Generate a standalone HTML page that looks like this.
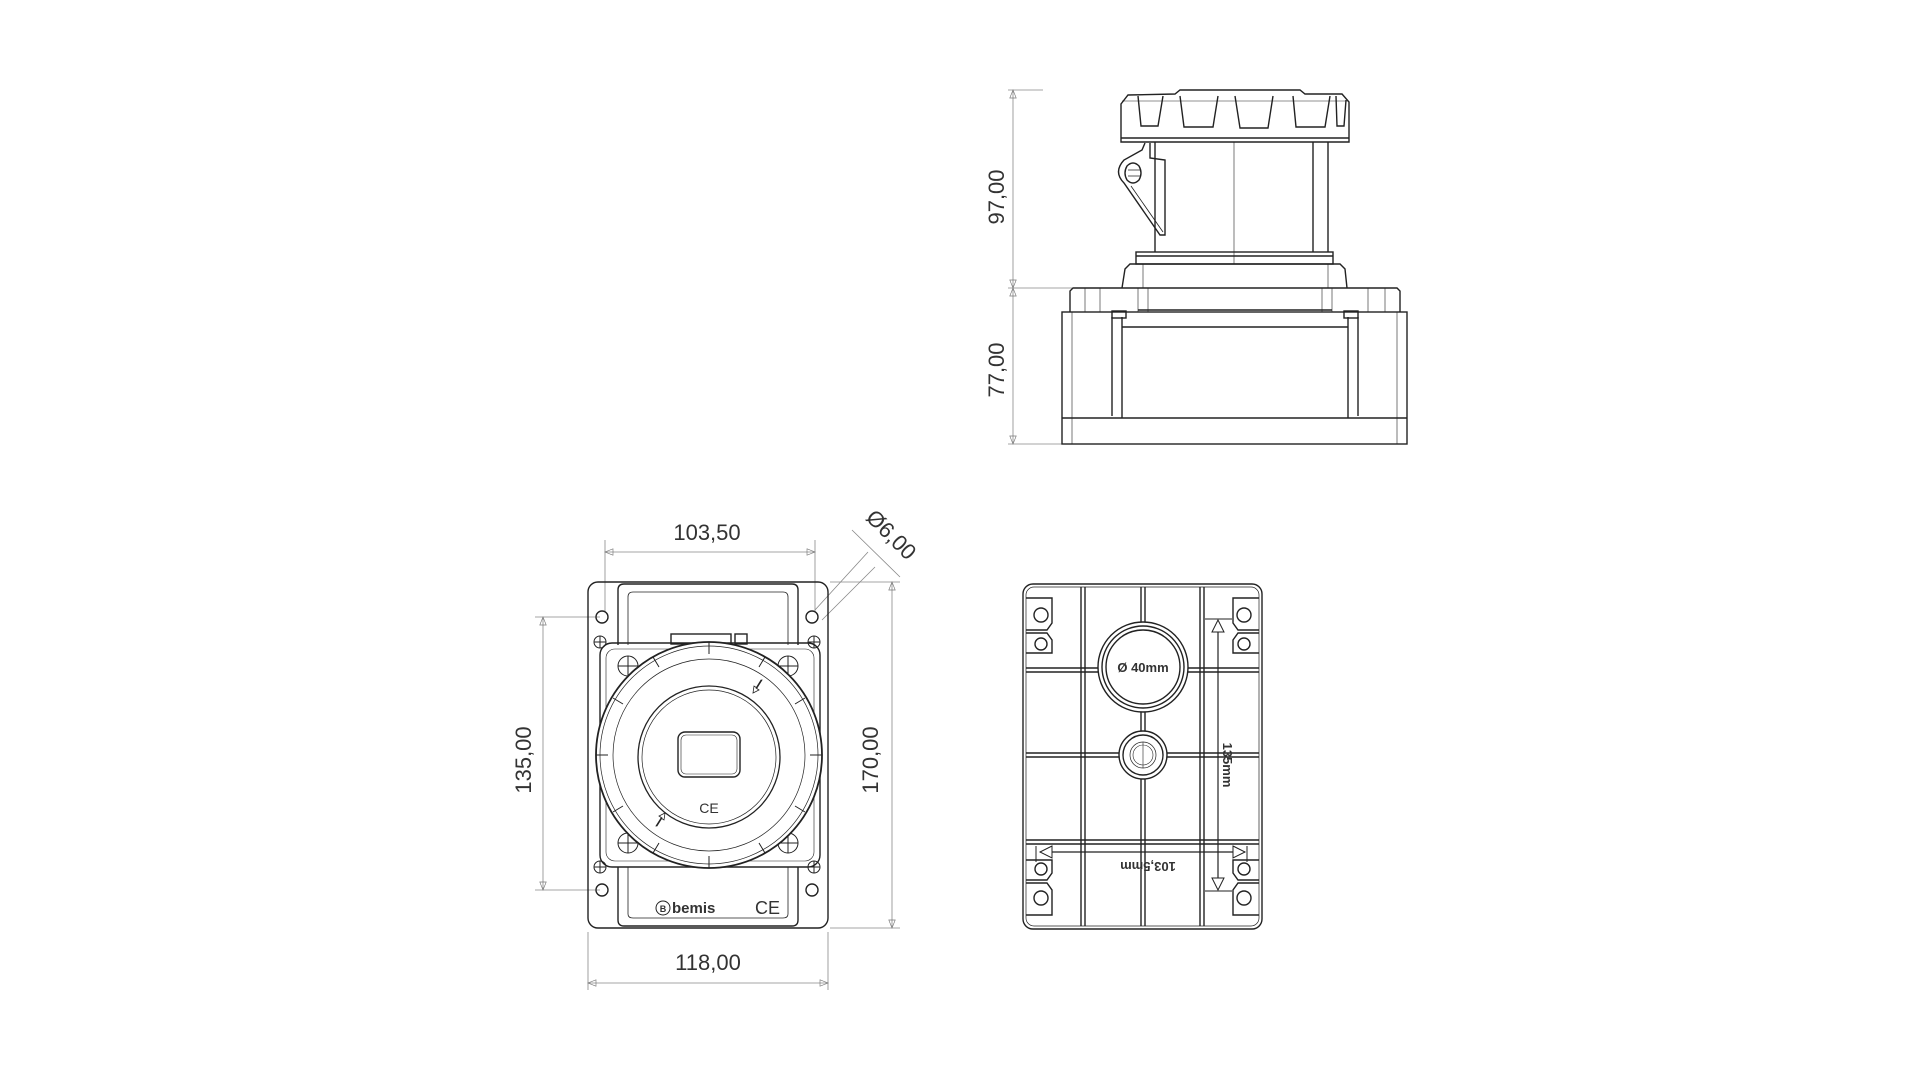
<!DOCTYPE html>
<html><head><meta charset="utf-8"><style>
html,body{margin:0;padding:0;background:#fff;width:1920px;height:1080px;overflow:hidden}
svg{display:block}
text{font-family:"Liberation Sans",sans-serif;fill:#333}
</style></head><body>
<svg width="1920" height="1080" viewBox="0 0 1920 1080" xmlns="http://www.w3.org/2000/svg">
<defs>
<marker id="ah" viewBox="0 0 10 10" refX="10" refY="5" markerWidth="14" markerHeight="8" orient="auto-start-reverse" markerUnits="userSpaceOnUse">
<path d="M0,1 L10,5 L0,9 Z" fill="none" stroke="#777" stroke-width="0.8"/></marker>
</defs>
<g fill="none" stroke="#222" stroke-width="1.4">
<g stroke="#888" stroke-width="0.8">
<line x1="1008" y1="90" x2="1043" y2="90"/>
<line x1="1008" y1="288" x2="1072" y2="288"/>
<line x1="1008" y1="444" x2="1062" y2="444"/>
<line x1="1013" y1="90" x2="1013" y2="288" marker-start="url(#ah)" marker-end="url(#ah)"/>
<line x1="1013" y1="288" x2="1013" y2="444" marker-start="url(#ah)" marker-end="url(#ah)"/>
</g>
<path d="M1121,142 L1121,104 L1128,95 L1175,94 L1180,90 L1300,90 L1305,94 L1342,94 L1349,102 L1349,142 Z"/>
<line x1="1121" y1="138" x2="1349" y2="138"/>
<path d="M1122,101 L1348,101" stroke-width="0.6"/>
<path d="M1138,96 L1141,126 L1158,126 L1163,96"/>
<path d="M1180,96 L1184,127 L1213,127 L1218,96"/>
<path d="M1235,96 L1240,128 L1268,128 L1273,96"/>
<path d="M1293,96 L1296,127 L1325,127 L1330,96"/>
<path d="M1336,96 L1337,126 L1344,126 L1346,100"/>
<path d="M1155,142 L1155,252 M1328,142 L1328,252 M1313,142 L1313,252"/>
<line x1="1234" y1="142" x2="1234" y2="264" stroke-width="0.6"/>
<path d="M1145,143 L1142,150 L1124,160 Q1113,172 1124,183 L1160,235 L1165,235 L1165,160 L1150,158 L1150,143" />
<path d="M1127,166 Q1133,160 1139,166 Q1143,173 1139,180 Q1133,186 1127,180 Q1123,173 1127,166 Z"/>
<path d="M1128,170 L1140,170 M1128,176 L1140,176" stroke-width="0.8"/>
<path d="M1131,186 L1163,232" stroke-width="0.8"/>
<rect x="1136" y="252" width="197" height="12"/>
<line x1="1136" y1="256" x2="1333" y2="256"/>
<path d="M1122,288 L1125,269 L1130,264 L1340,264 L1345,269 L1347,288"/>
<path d="M1143,264 L1143,288 M1328,264 L1328,288" stroke-width="0.6"/>
<path d="M1070,312 L1070,291 L1073,288 L1397,288 L1400,291 L1400,312"/>
<path d="M1085,288 L1085,312 M1100,288 L1100,312 M1138,288 L1138,312 M1148,288 L1148,312 M1322,288 L1322,312 M1332,288 L1332,312 M1368,288 L1368,312 M1385,288 L1385,312" stroke-width="0.6"/>
<line x1="1138" y1="310" x2="1332" y2="310"/>
<rect x="1062" y="312" width="345" height="132"/>
<line x1="1062" y1="418" x2="1407" y2="418"/>
<line x1="1122" y1="327" x2="1348" y2="327"/>
<path d="M1112,317 L1112,416 M1122,317 L1122,418 M1348,317 L1348,418 M1358,317 L1358,416"/>
<path d="M1072,312 L1072,444 M1397,312 L1397,444" stroke-width="0.6"/>
<rect x="1112" y="311" width="14" height="7"/><rect x="1344" y="311" width="14" height="7"/>
<g stroke="#888" stroke-width="0.8">
<line x1="605" y1="540" x2="605" y2="612"/>
<line x1="815" y1="540" x2="815" y2="612"/>
<line x1="605" y1="552" x2="815" y2="552" marker-start="url(#ah)" marker-end="url(#ah)"/>
<line x1="535" y1="617" x2="600" y2="617"/>
<line x1="535" y1="890" x2="600" y2="890"/>
<line x1="543" y1="617" x2="543" y2="890" marker-start="url(#ah)" marker-end="url(#ah)"/>
<line x1="830" y1="582" x2="900" y2="582"/>
<line x1="830" y1="928" x2="900" y2="928"/>
<line x1="892" y1="582" x2="892" y2="928" marker-start="url(#ah)" marker-end="url(#ah)"/>
<line x1="588" y1="932" x2="588" y2="990"/>
<line x1="828" y1="932" x2="828" y2="990"/>
<line x1="588" y1="983" x2="828" y2="983" marker-start="url(#ah)" marker-end="url(#ah)"/>
<line x1="815" y1="610" x2="868" y2="552"/>
<line x1="822" y1="620" x2="875" y2="567"/>
<line x1="852" y1="530" x2="900" y2="577"/>
</g>
<rect x="588" y="582" width="240" height="346" rx="10"/>
<path d="M618,645 L618,590 Q618,584 624,584 L792,584 Q798,584 798,590 L798,645"/>
<path d="M628,645 L628,597 Q628,592 633,592 L783,592 Q788,592 788,597 L788,645" stroke-width="0.8"/>
<path d="M618,867 L618,920 Q618,926 624,926 L792,926 Q798,926 798,920 L798,867"/>
<path d="M628,867 L628,914 Q628,918 633,918 L783,918 Q788,918 788,914 L788,867" stroke-width="0.8"/>
<rect x="600" y="643" width="220" height="224" rx="12"/>
<rect x="606" y="649" width="208" height="212" rx="9" stroke-width="0.6"/>
<rect x="671" y="634" width="60" height="10"/><rect x="735" y="634" width="12" height="10"/>
<circle cx="602" cy="617" r="6"/><circle cx="812" cy="617" r="6"/>
<circle cx="602" cy="890" r="6"/><circle cx="812" cy="890" r="6"/>
<g stroke-width="1">
<circle cx="600" cy="642" r="6"/><path d="M594,642 H606 M600,636 V648"/>
<circle cx="814" cy="642" r="6"/><path d="M808,642 H820 M814,636 V648"/>
<circle cx="600" cy="867" r="6"/><path d="M594,867 H606 M600,861 V873"/>
<circle cx="814" cy="867" r="6"/><path d="M808,867 H820 M814,861 V873"/>
<circle cx="628" cy="666" r="10"/><path d="M618,666 H638 M628,656 V676"/>
<circle cx="788" cy="666" r="10"/><path d="M778,666 H798 M788,656 V676"/>
<circle cx="628" cy="843" r="10"/><path d="M618,843 H638 M628,833 V853"/>
<circle cx="788" cy="843" r="10"/><path d="M778,843 H798 M788,833 V853"/>
</g>
<circle cx="709" cy="755" r="113" fill="#fff" stroke-width="1.8"/>
<circle cx="709" cy="755" r="109" stroke-width="0.7"/>
<circle cx="709" cy="755" r="96" stroke-width="0.7"/>
<g stroke-width="1">
<path d="M709,642 v12 M765,657 l-6,10 M805,698 l-10,6 M822,755 h-12 M805,812 l-10,-6 M765,853 l-6,-10 M709,868 v-12 M653,853 l6,-10 M613,812 l10,-6 M596,755 h12 M613,698 l10,6 M653,657 l6,10"/>
</g>
<circle cx="709" cy="757" r="71" stroke-width="1.3"/>
<circle cx="709" cy="757" r="67" stroke-width="0.7"/>
<rect x="678" y="732" width="62" height="45" rx="7"/>
<rect x="681" y="735" width="56" height="39" rx="5" stroke-width="0.6"/>
<path d="M762,680 l-5,8 -3,-2 -1,7 6,-3 -3,-2 5,-8 z" stroke-width="0.8"/>
<path d="M656,826 l5,-8 3,2 1,-7 -6,3 3,2 -5,8 z" stroke-width="0.8"/>
</g>
<text x="707" y="540" font-size="22" text-anchor="middle">103,50</text>
<text x="708" y="970" font-size="22" text-anchor="middle">118,00</text>
<text transform="translate(531,760) rotate(-90)" font-size="22" text-anchor="middle">135,00</text>
<text transform="translate(878,760) rotate(-90)" font-size="22" text-anchor="middle">170,00</text>
<text transform="translate(886,540) rotate(45)" font-size="22" text-anchor="middle">Ø6,00</text>
<text transform="translate(1004,197) rotate(-90)" font-size="22" text-anchor="middle">97,00</text>
<text transform="translate(1004,370) rotate(-90)" font-size="22" text-anchor="middle">77,00</text>
<text x="709" y="813" font-size="14" text-anchor="middle">CE</text>
<circle cx="663" cy="908" r="7" fill="none" stroke="#222" stroke-width="1"/>
<text x="663" y="912" font-size="9" font-weight="bold" text-anchor="middle">B</text>
<text x="672" y="913" font-size="15" font-weight="bold" font-family="Liberation Serif">bemis</text>
<text x="755" y="914" font-size="18">CE</text>
<g fill="none" stroke="#222" stroke-width="1.4">
<rect x="1023" y="584" width="239" height="345" rx="10"/>
<rect x="1026" y="587" width="233" height="339" rx="8" stroke-width="0.7"/>
<path d="M1081,587 V926 M1085,587 V926 M1141,587 V926 M1145,587 V926 M1200,587 V926 M1204,587 V926"/>
<path d="M1026,668 H1259 M1026,672 H1259 M1026,753 H1259 M1026,757 H1259 M1026,840 H1259 M1026,844 H1259"/>
<circle cx="1143" cy="667" r="45" fill="#fff"/>
<circle cx="1143" cy="667" r="41"/><circle cx="1143" cy="667" r="37"/>
<circle cx="1143" cy="755" r="24" fill="#fff"/>
<circle cx="1143" cy="755" r="20"/><circle cx="1143" cy="755" r="13" stroke-width="0.7"/><circle cx="1143" cy="755" r="10" stroke-width="0.6"/>
<line x1="1143" y1="742" x2="1143" y2="768" stroke-width="0.6"/>
<g>
<path d="M1026,598 H1052 V623 L1047,630 H1026"/><circle cx="1041" cy="615" r="7"/>
<path d="M1026,633 H1047 L1052,640 V653 H1026"/><circle cx="1041" cy="644" r="6"/>
<path d="M1259,598 H1233 V623 L1238,630 H1259"/><circle cx="1244" cy="615" r="7"/>
<path d="M1259,633 H1238 L1233,640 V653 H1259"/><circle cx="1244" cy="644" r="6"/>
<path d="M1026,915 H1052 V890 L1047,883 H1026"/><circle cx="1041" cy="898" r="7"/>
<path d="M1026,880 H1047 L1052,873 V860 H1026"/><circle cx="1041" cy="869" r="6"/>
<path d="M1259,915 H1233 V890 L1238,883 H1259"/><circle cx="1244" cy="898" r="7"/>
<path d="M1259,880 H1238 L1233,873 V860 H1259"/><circle cx="1244" cy="869" r="6"/>
</g>
<path d="M1205,619 H1232 M1205,891 H1232" stroke-width="1"/>
<line x1="1218" y1="621" x2="1218" y2="889" stroke-width="1.2"/>
<path d="M1212,632 L1218,620 L1224,632 Z M1212,878 L1218,890 L1224,878 Z" fill="#fff" stroke-width="1"/>
<line x1="1040" y1="852" x2="1245" y2="852" stroke-width="1.2"/>
<path d="M1052,846 L1040,852 L1052,858 Z M1233,846 L1245,852 L1233,858 Z" fill="#fff" stroke-width="1"/>
<path d="M1036,846 V862 M1247,846 V862" stroke-width="1"/>
</g>
<text x="1143" y="672" font-size="13" font-weight="bold" text-anchor="middle" fill="#222">Ø 40mm</text>
<text transform="translate(1223,765) rotate(90)" font-size="13" font-weight="bold" text-anchor="middle">135mm</text>
<text transform="translate(1148,862) rotate(180)" font-size="13" font-weight="bold" text-anchor="middle">103,5mm</text>
</svg>
</body></html>
